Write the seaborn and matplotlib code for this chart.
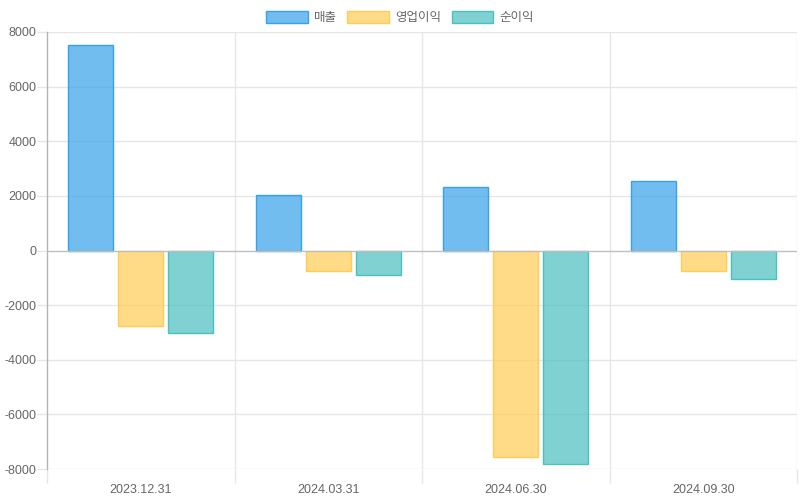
import matplotlib
matplotlib.use("Agg")
import matplotlib.pyplot as plt
import seaborn as sns
import pandas as pd
from matplotlib.patches import Patch

categories = ["2023.12.31", "2024.03.31", "2024.06.30", "2024.09.30"]
series_names = ["매출", "영업이익", "순이익"]
sales = [7520, 2030, 2330, 2545]
op_income = [-2765, -750, -7560, -750]
net_income = [-3020, -900, -7820, -1050]
y_ticks = [-8000, -6000, -4000, -2000, 0, 2000, 4000, 6000, 8000]

fills = [(54/255, 162/255, 235/255, 0.7), (255/255, 205/255, 86/255, 0.7), (75/255, 192/255, 192/255, 0.7)]
edges = [(54/255, 162/255, 235/255, 1.0), (255/255, 205/255, 86/255, 1.0), (75/255, 192/255, 192/255, 1.0)]

sns.set_theme(style="white")
plt.rcParams['font.family'] = ['Liberation Sans', 'Noto Sans CJK KR', 'DejaVu Sans']

rows = []
for name, vals in zip(series_names, [sales, op_income, net_income]):
    for c, v in zip(categories, vals):
        rows.append({"date": c, "series": name, "value": v})
df = pd.DataFrame(rows)

fig = plt.figure(figsize=(8, 5), dpi=100)
ax = fig.add_axes([47/800, 31/500, 750/800, 437/500])

sns.barplot(data=df, x="date", y="value", hue="series", order=categories,
            hue_order=series_names, palette=[f[:3] for f in fills],
            width=0.8, gap=0.1, ax=ax, legend=False, errorbar=None,
            saturation=1, zorder=3)

for i, container in enumerate(ax.containers):
    for bar in container:
        bar.set_facecolor(fills[i])
        bar.set_edgecolor(edges[i])
        bar.set_linewidth(1)
        bar.set_zorder(3)

ax.set_xlim(-0.5, 3.5)
ax.set_ylim(-8000, 8000)
ax.set_yticks(y_ticks)
ax.set_yticklabels([str(t) for t in y_ticks])
ax.set_xlabel("")
ax.set_ylabel("")
ax.grid(False)

grid_c = "#e6e6e6"
for xb in [0.5, 1.5, 2.5, 3.5]:
    ax.axvline(xb, color=grid_c, linewidth=1, zorder=0)
for yt in y_ticks:
    if yt != 0:
        ax.axhline(yt, color=grid_c, linewidth=1, zorder=0)
ax.axhline(0, color="#bfbfbf", linewidth=1, zorder=4)

ax.set_xticks([-0.5, 0.5, 1.5, 2.5, 3.5], minor=True)

for s in ["top", "right", "bottom"]:
    ax.spines[s].set_visible(False)
ax.spines["left"].set_color("#b3b3b3")
ax.spines["left"].set_linewidth(1)

txt = "#666666"
ax.tick_params(axis="x", which="major", length=0, pad=11, labelsize=9, labelcolor=txt)
ax.tick_params(axis="x", which="minor", length=10, width=1, color=grid_c, direction="out", bottom=True)
ax.tick_params(axis="y", which="major", length=7, width=1, color=grid_c, direction="out",
               labelsize=9, labelcolor=txt, pad=0.5, left=True)

handles = [Patch(facecolor=fills[i], edgecolor=edges[i], linewidth=1, label=series_names[i]) for i in range(3)]
fig.legend(handles=handles, loc="upper center", bbox_to_anchor=(0.5, 0.995), ncol=3, frameon=False,
           fontsize=9, handlelength=3.33, handleheight=1.1, handletextpad=0.5, columnspacing=0.83,
           labelcolor=txt, borderaxespad=0.3)

fig.savefig("out.png", dpi=100)
